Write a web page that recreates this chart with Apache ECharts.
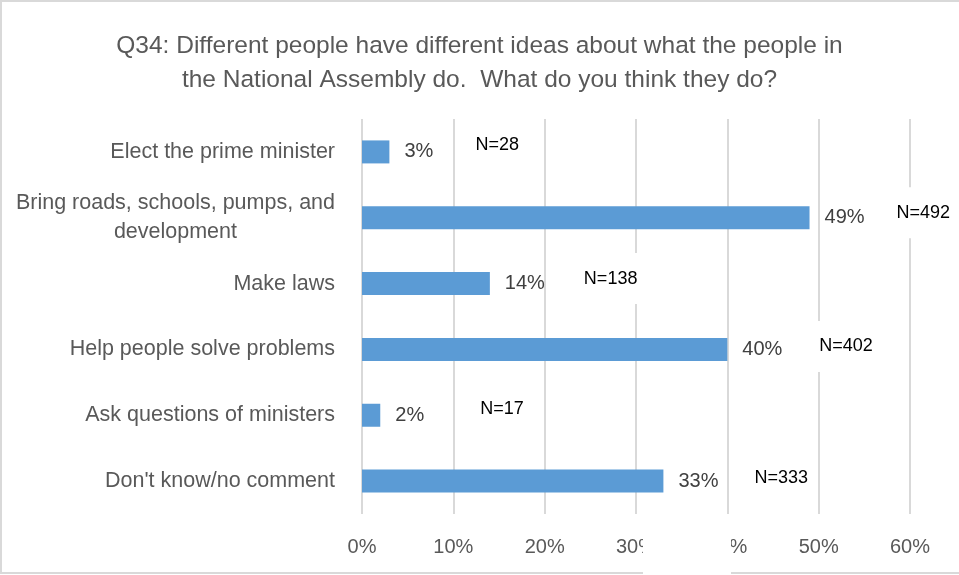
<!DOCTYPE html>
<html>
<head>
<meta charset="utf-8">
<script src="https://cdn.jsdelivr.net/npm/echarts@6/dist/echarts.min.js"></script>
<style>html,body{margin:0;padding:0;background:#fff;}#c{width:959px;height:575px;}</style>
</head>
<body>
<div id="c"></div>
<script>
const titleText = "Q34: Different people have different ideas about what the people in\nthe National Assembly do.  What do you think they do?";
const categories = [
  "Elect the prime minister",
  "Bring roads, schools, pumps, and development",
  "Make laws",
  "Help people solve problems",
  "Ask questions of ministers",
  "Don't know/no comment"
];
const percentValues = [3, 49, 14, 40, 2, 33];
const nCounts = [28, 492, 138, 402, 17, 333];
const xTicks = [0, 10, 20, 30, 40, 50, 60];

// layout only: where each hand-placed N label sits relative to its bar end
const nLabelDistance = [80, 81, 88, 86, 94, 85];
const nLabelDy = [-7, -5, -5, -3, -6, -3];

function wrapLabel(s) {
  const maxChars = 33;
  if (s.length <= maxChars) return '{c|' + s + '}';
  const words = s.split(' ');
  const lines = [];
  let cur = '';
  words.forEach(w => {
    const t = cur ? cur + ' ' + w : w;
    if (t.length > maxChars && cur) { lines.push(cur); cur = w; } else { cur = t; }
  });
  if (cur) lines.push(cur);
  return lines.map(l => '{c|' + l + '}').join('\n');
}

const chart = echarts.init(document.getElementById('c'), null, {renderer: 'canvas'});
const FONT = '"Liberation Sans", Arial, sans-serif';
chart.setOption({
  animation: false,
  backgroundColor: '#ffffff',
  title: {
    text: titleText,
    left: 'center',
    top: 24,
    textStyle: {color: '#595959', fontSize: 24.5, fontWeight: 'normal', fontFamily: FONT, lineHeight: 34}
  },
  grid: {left: 362, right: 49, top: 119, bottom: 61, containLabel: false},
  xAxis: {
    type: 'value',
    min: xTicks[0],
    max: xTicks[xTicks.length - 1],
    interval: xTicks[1] - xTicks[0],
    axisLine: {show: false},
    axisTick: {show: false},
    axisLabel: {formatter: '{value}%', color: '#595959', fontSize: 20, fontFamily: FONT, margin: 23},
    splitLine: {show: true, lineStyle: {color: '#d9d9d9', width: 2}}
  },
  yAxis: {
    type: 'category',
    data: categories,
    inverse: true,
    axisLine: {show: false},
    axisTick: {show: false},
    axisLabel: {
      margin: 27,
      formatter: wrapLabel,
      rich: {c: {color: '#595959', fontSize: 21.5, fontFamily: FONT, align: 'center', lineHeight: 29}}
    }
  },
  series: [
    {
      type: 'bar',
      data: percentValues,
      barWidth: 23,
      itemStyle: {color: '#5b9bd5'},
      label: {
        show: true, position: 'right', distance: 15,
        formatter: '{c}%', color: '#404040', fontSize: 20, fontFamily: FONT
      },
      z: 2
    },
    {
      type: 'bar',
      data: percentValues.map((v, i) => ({
        value: v,
        label: {
          distance: nLabelDistance[i],
          offset: [0, nLabelDy[i]],
          formatter: 'N=' + nCounts[i]
        }
      })),
      barWidth: 23,
      barGap: '-100%',
      silent: true,
      itemStyle: {color: 'rgba(0,0,0,0)'},
      label: {
        show: true, position: 'right',
        color: '#000000', fontSize: 18, fontFamily: FONT,
        backgroundColor: '#ffffff', padding: [12, 6, 21, 6], lineHeight: 18
      },
      z: 3
    }
  ],
  graphic: [
    {type: 'rect', z: 1, silent: true, shape: {x: 1, y: 1, width: 980, height: 572},
     style: {fill: 'none', stroke: '#d9d9d9', lineWidth: 2}},
    {type: 'rect', z: 100, silent: true, shape: {x: 643, y: 527, width: 88, height: 50},
     style: {fill: '#ffffff'}}
  ]
});
</script>
</body>
</html>
